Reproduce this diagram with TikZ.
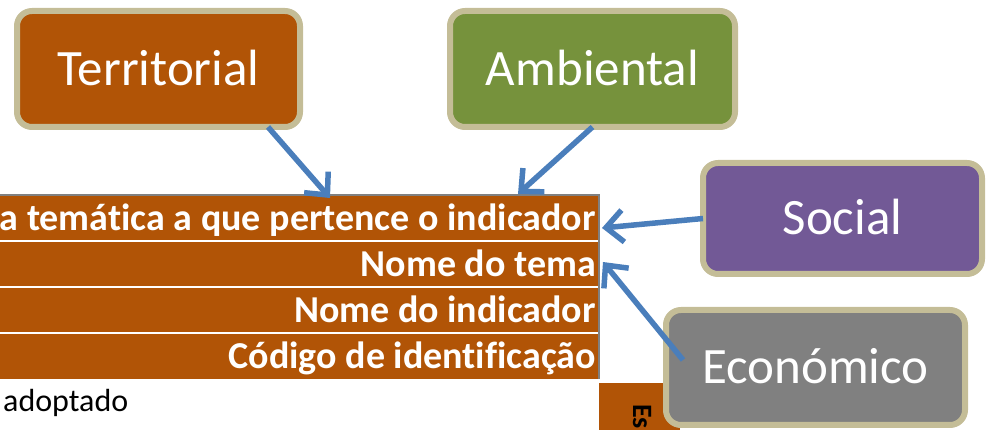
\documentclass[tikz,border=0pt]{standalone}
\usepackage{fontspec}
\setmainfont[Ligatures=NoCommon]{Carlito}
\usetikzlibrary{arrows.meta}
\definecolor{rust}{RGB}{177,84,6}
\definecolor{olive}{RGB}{118,146,60}
\definecolor{plum}{RGB}{114,89,150}
\definecolor{slate}{RGB}{128,128,128}
\definecolor{tan}{RGB}{196,189,151}
\definecolor{arrowblue}{RGB}{74,126,187}
\definecolor{rulegray}{RGB}{128,128,128}

\begin{document}
\begin{tikzpicture}[x=1pt,y=-1pt,
    theme/.style={draw=tan, line width=6pt, rounded corners=15pt, outer sep=0pt,
        text=white, font=\fontsize{51pt}{60pt}\selectfont, text height=33pt, text depth=0pt},
    bar/.style={fill=rust, minimum width=600pt, minimum height=46pt, inner sep=0pt, outer sep=0pt},
    bartext/.style={text=white, font=\fontsize{38pt}{45pt}\selectfont\bfseries,
        inner sep=0pt, text height=24.5pt, text depth=0pt},
    link/.style={arrowblue, line width=5.5pt, -{Straight Barb[length=17pt,width=32pt]}}]
        \useasboundingbox (0,0) rectangle (989,430);
        \clip (0,0) rectangle (989,430);
        % table rows
        \foreach \txt [count=\i] in {a temática a que pertence o indicador,Nome do tema,Nome do indicador,Código de identificação}
        {
            \node[bar] (bar\i) at (300,{218+46*(\i-1)}) {};
            \node[bartext, anchor=east] (lab\i) at ([xshift=-4pt]bar\i.east) {\txt};
        }
        \foreach \i in {1,2,3}
        \draw[white, line width=1.5pt] (bar\i.south west) -- (bar\i.south east);
        \draw[rulegray, line width=2.5pt] (bar1.north west) -- ([xshift=-1.2pt]bar1.north east) -- ([xshift=-1.2pt]bar4.south east);
        \fill[rust] (599,383) rectangle (680,435);
        \node[rotate=-90, anchor=base west, inner sep=0pt, font=\fontsize{28pt}{34pt}\selectfont\bfseries] (side) at (633,404) {Es};
        \node[anchor=base west, inner sep=0pt, font=\fontsize{32pt}{38pt}\selectfont] (adopt) at (3,412) {adoptado};
        % themes
        \node[theme, fill=rust, minimum width=283pt, minimum height=116pt] (terr) at (158.5,69) {Territorial};
        \node[theme, fill=olive, minimum width=285pt, minimum height=116pt] (amb) at (592.5,69) {Ambiental};
        \node[theme, fill=plum, minimum width=279pt, minimum height=111pt] (soc) at (842.5,218.5) {Social};
        \node[theme, fill=slate, minimum width=299pt, minimum height=115pt] (econ) at (815.5,367.5) {Económico};
        % arrows
        \draw[link] ([xshift=109.5pt]terr.south) -- ([xshift=30pt,yshift=-3pt]bar1.north);
        \draw[link] (amb.south) -- ([xshift=218pt,yshift=1pt]bar1.north);
        \draw[link] (soc.west) -- ([xshift=2pt,yshift=-10pt]bar1.east);
        \draw[link] ([xshift=17pt,yshift=7.5pt]econ.west) -- ([xshift=3pt,yshift=2pt]bar2.east);
    \end{tikzpicture}
\end{document}
